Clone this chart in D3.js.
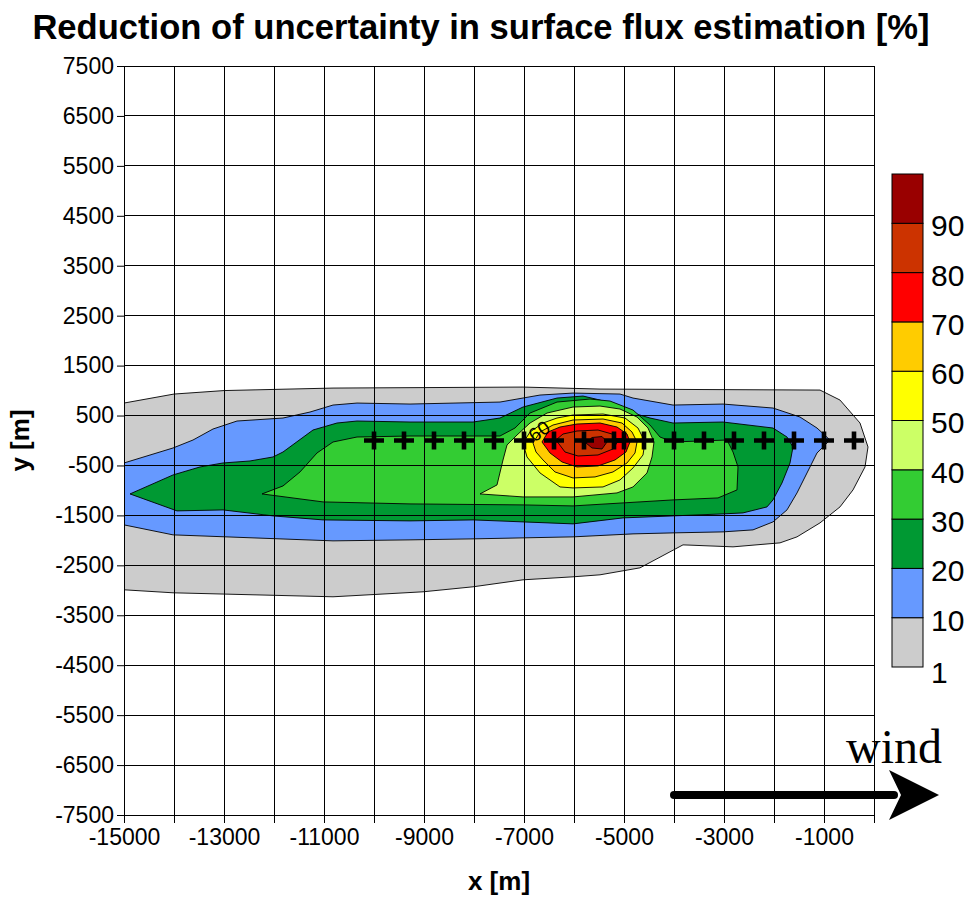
<!DOCTYPE html>
<html>
<head>
<meta charset="utf-8">
<script src="https://cdn.jsdelivr.net/npm/d3@7"></script>
<style>
	body { margin: 0; background: #fff; }
	svg { font-family: Arial, "Liberation Sans", sans-serif; }
</style>
</head>
<body>
<div id="chart"></div>
<script>

///////////////////////////////////////////////////////////////////////
// data ( metres )

let x_grid = [ -15000, -14000, -13000, -12000, -11000, -10000, -9000, -8000, -7000, -6000, -5000, -4000, -3000, -2000, -1000, 0 ];
let x_labels = [ -15000, -13000, -11000, -9000, -7000, -5000, -3000, -1000 ];
let y_grid = [ 7500, 6500, 5500, 4500, 3500, 2500, 1500, 500, -500, -1500, -2500, -3500, -4500, -5500, -6500, -7500 ];

let levels = [ 1, 10, 20, 30, 40, 50, 60, 70, 80, 90 ];
let level_colors = [ "#cccccc", "#6699ff", "#009933", "#33cc33", "#ccff66", "#ffff00", "#ffcc00", "#ff0000", "#cc3300", "#990000" ];

let contour_1 = [
	[ -15000, 750 ], [ -14000, 930 ], [ -13000, 1000 ], [ -10820, 1050 ], [ -7020, 1070 ], [ -5480, 1030 ],
	[ -1080, 1010 ], [ -680, 810 ], [ -280, 350 ], [ -120, -130 ], [ -180, -530 ], [ -420, -990 ],
	[ -680, -1330 ], [ -1080, -1650 ], [ -1540, -1930 ], [ -1880, -2050 ], [ -2820, -2130 ], [ -3820, -2090 ],
	[ -4680, -2550 ], [ -5480, -2690 ], [ -6020, -2730 ], [ -7020, -2790 ], [ -8020, -2930 ], [ -9020, -3030 ],
	[ -10820, -3130 ], [ -14020, -3050 ], [ -15000, -2990 ]
];
let contour_10 = [
	[ -15000, -450 ], [ -14020, -150 ], [ -13620, 10 ], [ -13220, 230 ], [ -12740, 390 ], [ -11820, 450 ],
	[ -11280, 570 ], [ -10820, 710 ], [ -10340, 750 ], [ -9280, 730 ], [ -7480, 770 ], [ -6680, 910 ],
	[ -6020, 950 ], [ -5080, 930 ], [ -4820, 850 ], [ -4020, 710 ], [ -3020, 730 ], [ -2020, 650 ],
	[ -1480, 470 ], [ -1140, 250 ], [ -880, 10 ], [ -1140, -250 ], [ -1340, -650 ], [ -1540, -1050 ],
	[ -1740, -1390 ], [ -2020, -1630 ], [ -2420, -1790 ], [ -3020, -1830 ], [ -4020, -1850 ], [ -4820, -1870 ],
	[ -6020, -1930 ], [ -7020, -1950 ], [ -8020, -1970 ], [ -9280, -1990 ], [ -10820, -2010 ], [ -14020, -1890 ],
	[ -15000, -1690 ]
];
let contour_20 = [
	[ -14880, -1070 ], [ -14020, -690 ], [ -13480, -530 ], [ -13020, -450 ], [ -12480, -410 ], [ -12020, -330 ],
	[ -11820, -230 ], [ -11220, 210 ], [ -10740, 350 ], [ -10340, 390 ], [ -9280, 370 ], [ -8020, 370 ],
	[ -7480, 450 ], [ -7020, 670 ], [ -6340, 850 ], [ -5820, 890 ], [ -5480, 810 ], [ -5020, 610 ],
	[ -4480, 450 ], [ -4020, 350 ], [ -3020, 370 ], [ -2020, 250 ], [ -1740, 70 ], [ -1620, -130 ],
	[ -1680, -450 ], [ -1840, -850 ], [ -2020, -1190 ], [ -2140, -1330 ], [ -2620, -1450 ], [ -3020, -1470 ],
	[ -4020, -1510 ], [ -5020, -1550 ], [ -6020, -1670 ], [ -7020, -1630 ], [ -8020, -1590 ], [ -9280, -1610 ],
	[ -11020, -1590 ], [ -12020, -1510 ], [ -13020, -1390 ], [ -13940, -1410 ]
];
let contour_30 = [
	[ -12240, -1070 ], [ -11820, -910 ], [ -11480, -630 ], [ -11140, -250 ], [ -10820, -30 ], [ -10340, 70 ],
	[ -9280, 90 ], [ -7480, 90 ], [ -7180, 250 ], [ -6880, 550 ], [ -6340, 770 ], [ -5680, 830 ],
	[ -5280, 790 ], [ -4820, 610 ], [ -4480, 310 ], [ -4280, 70 ], [ -4020, -30 ], [ -2940, 10 ],
	[ -2820, -230 ], [ -2720, -530 ], [ -2740, -990 ], [ -3120, -1150 ], [ -4020, -1190 ], [ -5020, -1250 ],
	[ -6020, -1310 ], [ -7020, -1290 ], [ -9280, -1270 ], [ -11020, -1230 ]
];
let contour_40 = [
	[ -7880, -1070 ], [ -7540, -890 ], [ -7420, -390 ], [ -7340, -90 ], [ -7140, 110 ], [ -6880, 350 ],
	[ -6540, 550 ], [ -6020, 670 ], [ -5480, 690 ], [ -5080, 630 ], [ -4740, 470 ], [ -4520, 250 ],
	[ -4400, -30 ], [ -4440, -330 ], [ -4540, -650 ], [ -4820, -930 ], [ -5140, -1050 ], [ -6020, -1130 ],
	[ -7020, -1130 ]
];
let contour_50 = [
	[ -7020, -50 ], [ -6880, 170 ], [ -6620, 350 ], [ -6340, 450 ], [ -6020, 510 ], [ -5420, 530 ],
	[ -4980, 450 ], [ -4720, 250 ], [ -4580, -30 ], [ -4620, -290 ], [ -4820, -550 ], [ -5080, -790 ],
	[ -5420, -930 ], [ -6020, -950 ], [ -6280, -930 ], [ -6680, -650 ], [ -6940, -330 ]
];
let contour_60 = [
	[ -6820, -50 ], [ -6680, 170 ], [ -6420, 310 ], [ -6020, 410 ], [ -5420, 430 ], [ -5040, 350 ],
	[ -4840, 170 ], [ -4740, -30 ], [ -4780, -250 ], [ -4940, -450 ], [ -5220, -630 ], [ -5580, -730 ],
	[ -6020, -750 ], [ -6380, -630 ], [ -6620, -390 ], [ -6760, -230 ]
];
let contour_70 = [
	[ -6640, -30 ], [ -6520, 170 ], [ -6280, 270 ], [ -5940, 330 ], [ -5480, 350 ], [ -5140, 270 ],
	[ -4940, 130 ], [ -4880, -30 ], [ -4960, -230 ], [ -5180, -390 ], [ -5520, -510 ], [ -5940, -530 ],
	[ -6240, -430 ], [ -6480, -250 ]
];
let contour_80 = [
	[ -6360, 10 ], [ -6220, 130 ], [ -5940, 190 ], [ -5520, 210 ], [ -5240, 130 ], [ -5120, -10 ],
	[ -5220, -170 ], [ -5520, -290 ], [ -5920, -310 ], [ -6180, -230 ]
];
let contour_90 = [
	[ -5760, -50 ], [ -5640, 60 ], [ -5440, 80 ], [ -5340, -30 ], [ -5440, -170 ], [ -5640, -150 ]
];

let contours = [ contour_1, contour_10, contour_20, contour_30, contour_40, contour_50, contour_60, contour_70, contour_80, contour_90 ];

let receptor_x = [ -10000, -9400, -8800, -8200, -7600, -7000, -6400, -5800, -5200, -5000, -4600, -4000, -3400, -2800, -2200, -1600, -1000, -400 ];
let receptor_y = 0;

let contour_label = { text: "60", x: -6680, y: 160 };
let wind_arrow = { x0: -4000, x1: 1300, y: -7100 };

///////////////////////////////////////////////////////////////////////

function draw_chart( div_id )	{

	let width = 971, height = 899;
	let plot = { left: 124, right: 874, top: 66, bottom: 815 };

	let svg = d3.select( "#" + div_id )
		.append( "svg" )
			.attr( "width", width )
			.attr( "height", height );

	svg.append( "rect" )
		.attr( "width", width )
		.attr( "height", height )
		.attr( "fill", "#fff" );

	let x = d3.scaleLinear().domain( [ -15000, 0 ] ).range( [ plot.left, plot.right ] );
	let y = d3.scaleLinear().domain( [ -7500, 7500 ] ).range( [ plot.bottom, plot.top ] );

	svg.append( "clipPath" )
		.attr( "id", "plot_clip" )
		.append( "rect" )
			.attr( "x", plot.left )
			.attr( "y", plot.top )
			.attr( "width", plot.right - plot.left )
			.attr( "height", plot.bottom - plot.top );

	// filled contours, lowest level first

	let line = d3.line()
		.x( d => x( d[ 0 ] ) )
		.y( d => y( d[ 1 ] ) )
		.curve( d3.curveLinearClosed );

	svg.append( "g" )
		.attr( "clip-path", "url(#plot_clip)" )
		.selectAll( "path" )
		.data( contours )
		.join( "path" )
			.attr( "d", d => line( d ) )
			.attr( "fill", ( d, i ) => level_colors[ i ] )
			.attr( "stroke", "#000" )
			.attr( "stroke-width", 0.9 )
			.attr( "stroke-linejoin", "round" );

	// grid

	let grid = svg.append( "g" )
		.attr( "stroke", "#000" )
		.attr( "stroke-width", 1 )
		.attr( "shape-rendering", "crispEdges" );

	grid.selectAll( "line.vx" )
		.data( x_grid )
		.join( "line" )
			.attr( "class", "vx" )
			.attr( "x1", d => x( d ) )
			.attr( "x2", d => x( d ) )
			.attr( "y1", plot.top )
			.attr( "y2", plot.bottom );

	grid.selectAll( "line.hy" )
		.data( y_grid )
		.join( "line" )
			.attr( "class", "hy" )
			.attr( "x1", plot.left )
			.attr( "x2", plot.right )
			.attr( "y1", d => y( d ) )
			.attr( "y2", d => y( d ) );

	// receptors

	svg.append( "g" )
		.selectAll( "path" )
		.data( receptor_x )
		.join( "path" )
			.attr( "transform", d => "translate(" + x( d ) + "," + y( receptor_y ) + ")" )
			.attr( "d", "M-10,0H10M0,-9V9" )
			.attr( "stroke", "#000" )
			.attr( "stroke-width", 4.6 )
			.attr( "fill", "none" );

	svg.append( "text" )
		.attr( "transform", "translate(" + x( contour_label.x ) + "," + y( contour_label.y ) + ") rotate(-35)" )
		.attr( "text-anchor", "middle" )
		.attr( "dominant-baseline", "middle" )
		.attr( "font-size", 19 )
		.text( contour_label.text );

	// axes

	let x_axis = svg.append( "g" )
		.attr( "transform", "translate(0," + plot.bottom + ")" )
		.call(
			d3.axisBottom( x )
				.tickValues( x_grid )
				.tickSize( 8 )
				.tickPadding( 6 )
				.tickFormat( d => x_labels.includes( d ) ? String( d ) : "" )
		);
	x_axis.select( ".domain" ).remove();
	x_axis.selectAll( "text" )
		.attr( "font-size", 23 )
		.attr( "font-family", "Arial, 'Liberation Sans', sans-serif" );

	let y_axis = svg.append( "g" )
		.attr( "transform", "translate(" + plot.left + ",0)" )
		.call(
			d3.axisLeft( y )
				.tickValues( y_grid )
				.tickSize( 7 )
				.tickPadding( 3 )
				.tickFormat( d => String( d ) )
		);
	y_axis.select( ".domain" ).remove();
	y_axis.selectAll( "text" )
		.attr( "font-size", 23 )
		.attr( "font-family", "Arial, 'Liberation Sans', sans-serif" );

	svg.append( "rect" )
		.attr( "x", plot.left )
		.attr( "y", plot.top )
		.attr( "width", plot.right - plot.left )
		.attr( "height", plot.bottom - plot.top )
		.attr( "fill", "none" )
		.attr( "stroke", "#000" )
		.attr( "stroke-width", 1 )
		.attr( "shape-rendering", "crispEdges" );

	// titles

	svg.append( "text" )
		.attr( "x", 481 )
		.attr( "y", 39 )
		.attr( "text-anchor", "middle" )
		.attr( "font-size", 34.6 )
		.attr( "font-weight", "bold" )
		.text( "Reduction of uncertainty in surface flux estimation [%]" );

	svg.append( "text" )
		.attr( "x", ( plot.left + plot.right ) / 2 )
		.attr( "y", 890 )
		.attr( "text-anchor", "middle" )
		.attr( "font-size", 26 )
		.attr( "font-weight", "bold" )
		.text( "x [m]" );

	svg.append( "text" )
		.attr( "transform", "translate(29," + y( 0 ) + ") rotate(-90)" )
		.attr( "text-anchor", "middle" )
		.attr( "font-size", 26 )
		.attr( "font-weight", "bold" )
		.text( "y [m]" );

	// colour bar

	let bar = { x: 892, w: 31, top: 174, bottom: 667 };
	let cb = d3.scaleLinear().domain( [ 0, levels.length ] ).range( [ bar.bottom, bar.top ] );

	let cbar = svg.append( "g" );
	cbar.selectAll( "rect" )
		.data( levels )
		.join( "rect" )
			.attr( "x", bar.x )
			.attr( "y", ( d, i ) => cb( i + 1 ) )
			.attr( "width", bar.w )
			.attr( "height", ( d, i ) => cb( i ) - cb( i + 1 ) )
			.attr( "fill", ( d, i ) => level_colors[ i ] )
			.attr( "stroke", "#000" )
			.attr( "stroke-width", 1 );

	cbar.selectAll( "text" )
		.data( levels )
		.join( "text" )
			.attr( "x", bar.x + bar.w + 8 )
			.attr( "y", ( d, i ) => cb( i ) + ( i == 0 ? 8 : 5 ) )
			.attr( "dominant-baseline", "middle" )
			.attr( "font-size", 30 )
			.text( d => d );

	// wind arrow

	let ax0 = x( wind_arrow.x0 ), ax1 = x( wind_arrow.x1 ), ay = y( wind_arrow.y );

	svg.append( "line" )
		.attr( "x1", ax0 )
		.attr( "x2", ax1 - 45 )
		.attr( "y1", ay )
		.attr( "y2", ay )
		.attr( "stroke", "#000" )
		.attr( "stroke-width", 8 )
		.attr( "stroke-linecap", "round" );

	svg.append( "path" )
		.attr( "d", "M" + ax1 + "," + ay +
			"L" + ( ax1 - 50 ) + "," + ( ay - 25 ) +
			"L" + ( ax1 - 38 ) + "," + ay +
			"L" + ( ax1 - 50 ) + "," + ( ay + 25 ) + "Z" )
		.attr( "fill", "#000" );

	svg.append( "text" )
		.attr( "x", 942 )
		.attr( "y", 763 )
		.attr( "text-anchor", "end" )
		.attr( "font-family", "'Liberation Serif', 'Times New Roman', serif" )
		.attr( "font-size", 48 )
		.text( "wind" );
}

draw_chart( "chart" );

</script>
</body>
</html>
